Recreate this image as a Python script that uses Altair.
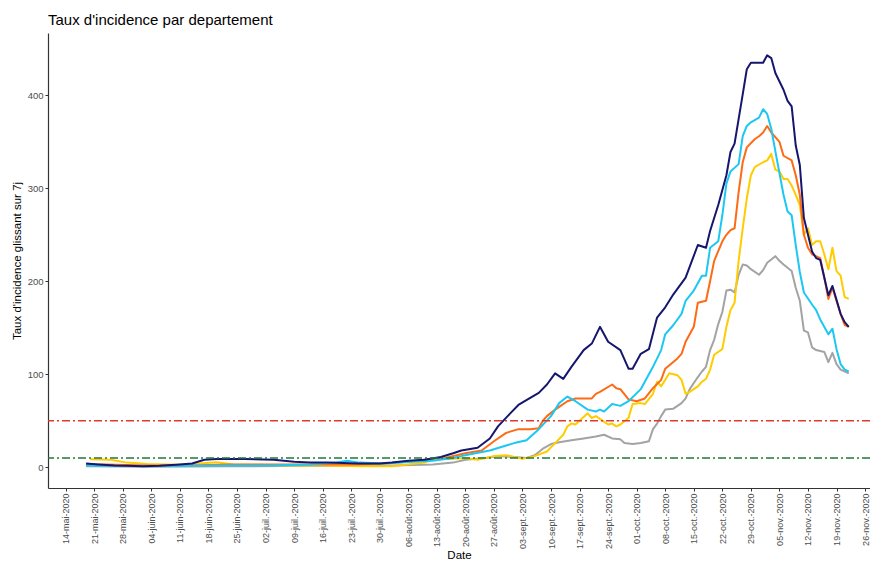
import altair as alt
import pandas as pd

START = pd.Timestamp("2020-05-14")

# day offsets from 14-mai-2020 and values (taux d'incidence glissant sur 7j)
navy_days = [5, 8, 12, 15, 19, 23, 28, 31, 34, 37, 44, 51, 56, 60, 64, 68, 72, 77, 80, 84, 88, 92, 95, 97, 101, 104, 106, 109, 111, 114, 116, 118, 120, 122, 124, 127, 129, 131, 133, 136, 138, 139, 141, 143, 145, 147, 149, 152, 155, 157, 158, 160, 162, 163, 164, 166, 167, 168, 171, 172, 173, 174, 176, 177, 178, 179, 180, 181, 182, 183, 184, 185, 186, 187, 188, 190, 191, 192]
navy_vals = [4, 3, 2, 1.6, 1.2, 1.6, 3, 4, 8, 9, 9, 8, 6, 5, 5, 4.5, 4, 4, 5, 7, 8, 11, 15, 18, 21, 31, 44, 58, 67, 75, 80, 89, 101, 95, 108, 126, 133, 151, 135, 126, 106, 106, 122, 127, 161, 172, 186, 204, 239, 236, 254, 282, 314, 339, 348, 401, 428, 435, 435, 443, 440, 424, 406, 394, 388, 346, 325, 268, 250, 232, 225, 223, 204, 185, 195, 165, 156, 151]

blue_days = [5, 10, 20, 30, 40, 50, 60, 66, 69, 72, 78, 85, 90, 95, 97, 104, 107, 110, 113, 116, 119, 121, 123, 125, 128, 130, 131, 132, 134, 136, 138, 141, 142, 144, 146, 147, 149, 151, 152, 154, 156, 157, 158, 160, 161, 162, 163, 165, 166, 167, 168, 170, 171, 172, 173, 174, 176, 177, 178, 179, 180, 181, 183, 184, 185, 187, 188, 189, 190, 191, 192]
blue_vals = [2, 1.5, 1, 1.5, 2, 2, 3, 5, 7, 5, 4, 6, 7, 10, 12, 18, 22, 26, 29, 41, 55, 69, 76, 71, 62, 60, 62, 60, 68, 66, 71, 84, 92, 108, 126, 143, 153, 165, 179, 190, 206, 206, 236, 243, 271, 305, 318, 326, 356, 367, 371, 376, 385, 380, 364, 340, 293, 275, 271, 239, 210, 188, 175, 169, 159, 143, 149, 127, 111, 105, 103]

orange_days = [5, 10, 20, 30, 40, 50, 60, 70, 78, 84, 89, 93, 98, 102, 105, 108, 111, 114, 116, 117, 118, 120, 121, 123, 125, 129, 130, 131, 134, 135, 136, 138, 140, 142, 144, 146, 147, 150, 151, 152, 154, 155, 157, 158, 159, 161, 162, 163, 164, 165, 166, 167, 169, 170, 171, 172, 173, 174, 175, 176, 178, 179, 180, 181, 182, 183, 185, 186, 187, 188, 190, 191, 192]
orange_vals = [3, 3, 2, 2, 3, 3, 3, 3, 4, 6, 9, 10, 15, 18, 28, 37, 41, 41, 42, 50, 55, 62, 65, 71, 74, 74, 79, 81, 89, 85, 84, 73, 71, 74, 85, 94, 106, 117, 122, 135, 151, 177, 179, 200, 222, 243, 250, 255, 257, 296, 328, 344, 353, 356, 360, 367, 360, 355, 350, 335, 330, 314, 293, 250, 236, 229, 225, 204, 181, 193, 165, 153, 151]

gold_days = [6, 11, 15, 20, 27, 33, 37, 41, 48, 55, 65, 72, 80, 88, 91, 94, 98, 101, 105, 108, 112, 115, 118, 120, 122, 123, 124, 125, 126, 128, 129, 130, 131, 133, 134, 135, 136, 138, 139, 141, 142, 144, 145, 146, 148, 150, 151, 152, 153, 155, 156, 157, 158, 159, 161, 162, 163, 164, 165, 166, 167, 168, 169, 171, 172, 173, 174, 175, 176, 177, 178, 179, 180, 181, 182, 183, 184, 185, 186, 187, 188, 189, 190, 191, 192]
gold_vals = [8.5, 8, 5, 3.5, 2.7, 4, 5.5, 3, 2.7, 2, 2, 1, 1, 5, 10, 9, 10, 8, 12, 13, 9, 12, 17, 26, 35, 44, 47, 46, 50, 58, 53, 55, 52, 46, 47, 44, 46, 53, 68, 69, 68, 79, 92, 87, 101, 99, 94, 79, 81, 87, 92, 95, 105, 121, 127, 151, 169, 177, 222, 257, 289, 314, 323, 328, 330, 337, 320, 318, 310, 310, 303, 293, 282, 250, 257, 239, 243, 243, 229, 213, 236, 211, 206, 183, 181]

gray_days = [5, 20, 40, 60, 80, 90, 95, 98, 103, 106, 110, 113, 115, 117, 119, 121, 124, 127, 130, 132, 134, 136, 137, 139, 141, 143, 144, 145, 146, 147, 149, 151, 152, 153, 155, 156, 157, 158, 159, 160, 161, 162, 163, 164, 165, 166, 167, 168, 170, 171, 172, 174, 175, 176, 178, 179, 180, 181, 182, 183, 184, 186, 187, 188, 189, 190, 192]
gray_vals = [1, 0.5, 1, 1.5, 2, 3, 5, 8, 10, 12, 11, 10, 13, 20, 25, 27, 29, 31, 33, 35, 31, 30, 26, 25, 26, 28, 41, 47, 55, 62, 63, 69, 74, 84, 97, 103, 108, 126, 137, 154, 167, 190, 191, 188, 207, 218, 217, 213, 207, 212, 220, 227, 222, 218, 211, 193, 179, 147, 145, 129, 126, 124, 113, 123, 111, 105, 101]

# drawing order: first drawn is at the back
series = [
    ("gris", gray_days, gray_vals, "#a3a3a3"),
    ("jaune", gold_days, gold_vals, "#ffcc00"),
    ("orange", orange_days, orange_vals, "#ff6a14"),
    ("bleu clair", blue_days, blue_vals, "#1cc8f2"),
    ("bleu marine", navy_days, navy_vals, "#16166e"),
]

thresholds = [50, 10]
threshold_colors = ["#dc3a2e", "#1f7a3c"]

tick_dates = pd.date_range("2020-05-14", "2020-11-26", freq="7D")
tick_values = [alt.DateTime(year=t.year, month=t.month, date=t.day) for t in tick_dates]

months_expr = "['janv.','févr.','mars','avr.','mai','juin','juil.','août','sept.','oct.','nov.','déc.']"
label_expr = ("timeFormat(datum.value, '%d') + '-' + " + months_expr +
              "[month(datum.value)] + '-' + timeFormat(datum.value, '%Y')")

x_scale = alt.Scale(domain=[alt.DateTime(year=2020, month=5, date=9, hours=16),
                            alt.DateTime(year=2020, month=11, date=27, hours=5)])
y_scale = alt.Scale(domain=[-22.3, 467], nice=False, zero=False)

x_axis = alt.Axis(values=tick_values, labelExpr=label_expr, labelAngle=270,
                  labelAlign="right", labelBaseline="middle", labelFontSize=9,
                  labelColor="#4d4d4d", labelPadding=2, labelOverlap=False,
                  labelFlush=False, tickSize=3, tickColor="#333333",
                  domainColor="#333333", domainWidth=1.2, grid=False,
                  title="Date", titleFontSize=11.5, titleFontWeight="normal",
                  titleColor="black", titlePadding=1)
y_axis = alt.Axis(values=[0, 100, 200, 300, 400], labelFontSize=9.5,
                  labelColor="#4d4d4d", labelPadding=2, tickSize=3,
                  tickColor="#333333", domainColor="#333333", domainWidth=1.2,
                  grid=False, title="Taux d'incidence glissant sur 7j",
                  titleFontSize=11.5, titleFontWeight="normal", titleColor="black",
                  titlePadding=5)

layers = []
for name, days, vals, col in series:
    d = pd.DataFrame({
        "date": [START + pd.Timedelta(days=k) for k in days],
        "taux": vals,
        "serie": name,
    })
    layers.append(
        alt.Chart(d).mark_line(color=col, strokeWidth=2, strokeJoin="round")
        .encode(x=alt.X("date:T", scale=x_scale, axis=x_axis),
                y=alt.Y("taux:Q", scale=y_scale, axis=y_axis))
    )

for val, col in zip(thresholds, threshold_colors):
    layers.append(
        alt.Chart(pd.DataFrame({"taux": [val]}))
        .mark_rule(color=col, strokeWidth=1.6, strokeDash=[8, 3, 2, 3])
        .encode(y=alt.Y("taux:Q", scale=y_scale, axis=y_axis))
    )

chart = alt.layer(*layers).properties(
    width=822,
    height=455,
    title=alt.TitleParams("Taux d'incidence par departement", anchor="start",
                          frame="group", fontSize=15, fontWeight="normal",
                          color="black", font="Liberation Sans", offset=5),
    autosize=alt.AutoSizeParams(type="none"),
    padding={"left": 40, "top": 25, "right": 0, "bottom": 72},
).configure(font="Liberation Sans").configure_view(stroke=None)

chart.save("out.html", embed_options={"renderer": "svg", "actions": False})
